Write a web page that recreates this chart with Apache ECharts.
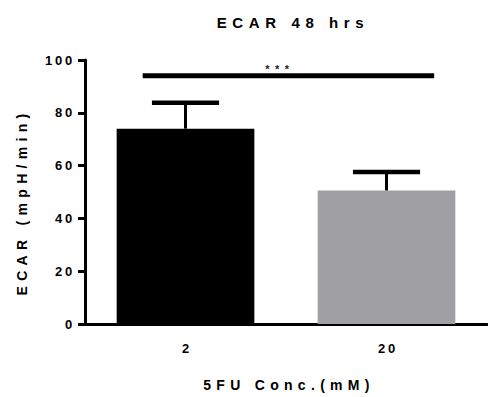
<!DOCTYPE html>
<html>
<head>
<meta charset="utf-8">
<script src="https://cdn.jsdelivr.net/npm/echarts@6/dist/echarts.min.js"></script>
<style>
  html, body { margin: 0; padding: 0; background: #fff; }
  #chart { width: 488px; height: 397px; }
  #chart text[style*="15px"] { letter-spacing: 5.6px; }
  #chart text[style*="14px"] { letter-spacing: 5.3px; }
  #chart text[style*="13px"] { letter-spacing: 2.8px; }
  #chart text[style*="11px"] { letter-spacing: 5.5px; }
</style>
</head>
<body>
<div id="chart"></div>
<script>
const categories = ['2', '20'];
const meanValues = [74, 50.6];
const upperValues = [83.8, 57.6];
const barColors = ['#000000', '#a09fa4'];
const yTicks = [0, 20, 40, 60, 80, 100];
const significance = { from: 0, to: 1, value: 94, label: '***' };

const FONT = 'Liberation Sans';
const chart = echarts.init(document.getElementById('chart'), null, { renderer: 'svg' });

chart.setOption({
  animation: false,
  backgroundColor: '#fff',
  title: {
    text: 'ECAR 48 hrs',
    left: 288, top: 10, textAlign: 'center',
    textStyle: { fontFamily: FONT, fontSize: 15, fontWeight: 'bold', color: '#000' }
  },
  grid: { left: 85, right: 1, top: 60, bottom: 70 },
  xAxis: {
    type: 'category',
    data: categories,
    name: '5FU Conc.(mM)',
    nameLocation: 'middle',
    nameGap: 54,
    nameTextStyle: { fontFamily: FONT, fontSize: 14, fontWeight: 'bold', color: '#000', padding: [0, 0, 0, 6] },
    axisLine: { lineStyle: { color: '#000', width: 3 } },
    axisTick: { alignWithLabel: true, length: 6, lineStyle: { color: '#000', width: 3 } },
    axisLabel: { fontFamily: FONT, fontSize: 13, fontWeight: 'bold', color: '#000', margin: 18, padding: [0, 0, 0, 3] }
  },
  yAxis: {
    type: 'value',
    min: yTicks[0], max: yTicks[yTicks.length - 1], interval: yTicks[1] - yTicks[0],
    name: 'ECAR (mpH/min)',
    nameLocation: 'middle',
    nameGap: 56,
    nameTextStyle: { fontFamily: FONT, fontSize: 14, fontWeight: 'bold', color: '#000', padding: [0, 20, 0, 0] },
    axisLine: { show: true, lineStyle: { color: '#000', width: 3 } },
    axisTick: { show: true, length: 7, lineStyle: { color: '#000', width: 3 } },
    splitLine: { show: false },
    axisLabel: { fontFamily: FONT, fontSize: 13, fontWeight: 'bold', color: '#000', margin: 10 }
  },
  series: [
    {
      type: 'bar',
      barWidth: '68.5%',
      data: meanValues.map((v, i) => ({ value: v, itemStyle: { color: barColors[i] } })),
      z: 2
    },
    {
      type: 'custom',
      z: 3,
      data: meanValues.map((v, i) => [i, v, upperValues[i]]),
      renderItem: function (params, api) {
        const x = api.value(0);
        const p0 = api.coord([x, api.value(1)]);
        const p1 = api.coord([x, api.value(2)]);
        const half = api.size([1, 0])[0] * 0.167;
        return {
          type: 'group',
          children: [
            { type: 'line', shape: { x1: p0[0], y1: p0[1], x2: p1[0], y2: p1[1] }, style: { stroke: '#000', lineWidth: 3 } },
            { type: 'line', shape: { x1: p1[0] - half, y1: p1[1], x2: p1[0] + half, y2: p1[1] }, style: { stroke: '#000', lineWidth: 4.5 } }
          ]
        };
      }
    },
    {
      type: 'custom',
      z: 3,
      data: [[significance.from, significance.to, significance.value]],
      renderItem: function (params, api) {
        const a = api.coord([api.value(0), api.value(2)]);
        const b = api.coord([api.value(1), api.value(2)]);
        const band = api.size([1, 0])[0];
        const x1 = a[0] - band * 0.213;
        const x2 = b[0] + band * 0.237;
        return {
          type: 'group',
          children: [
            { type: 'line', shape: { x1: x1, y1: a[1], x2: x2, y2: a[1] }, style: { stroke: '#000', lineWidth: 5 } },
            { type: 'text', x: a[0] + band * 0.47, y: a[1] - 1,
              style: { text: significance.label, fontFamily: FONT, fontSize: 11, fontWeight: 'bold', fill: '#222', align: 'center', verticalAlign: 'bottom' } }
          ]
        };
      }
    }
  ]
});
</script>
</body>
</html>
